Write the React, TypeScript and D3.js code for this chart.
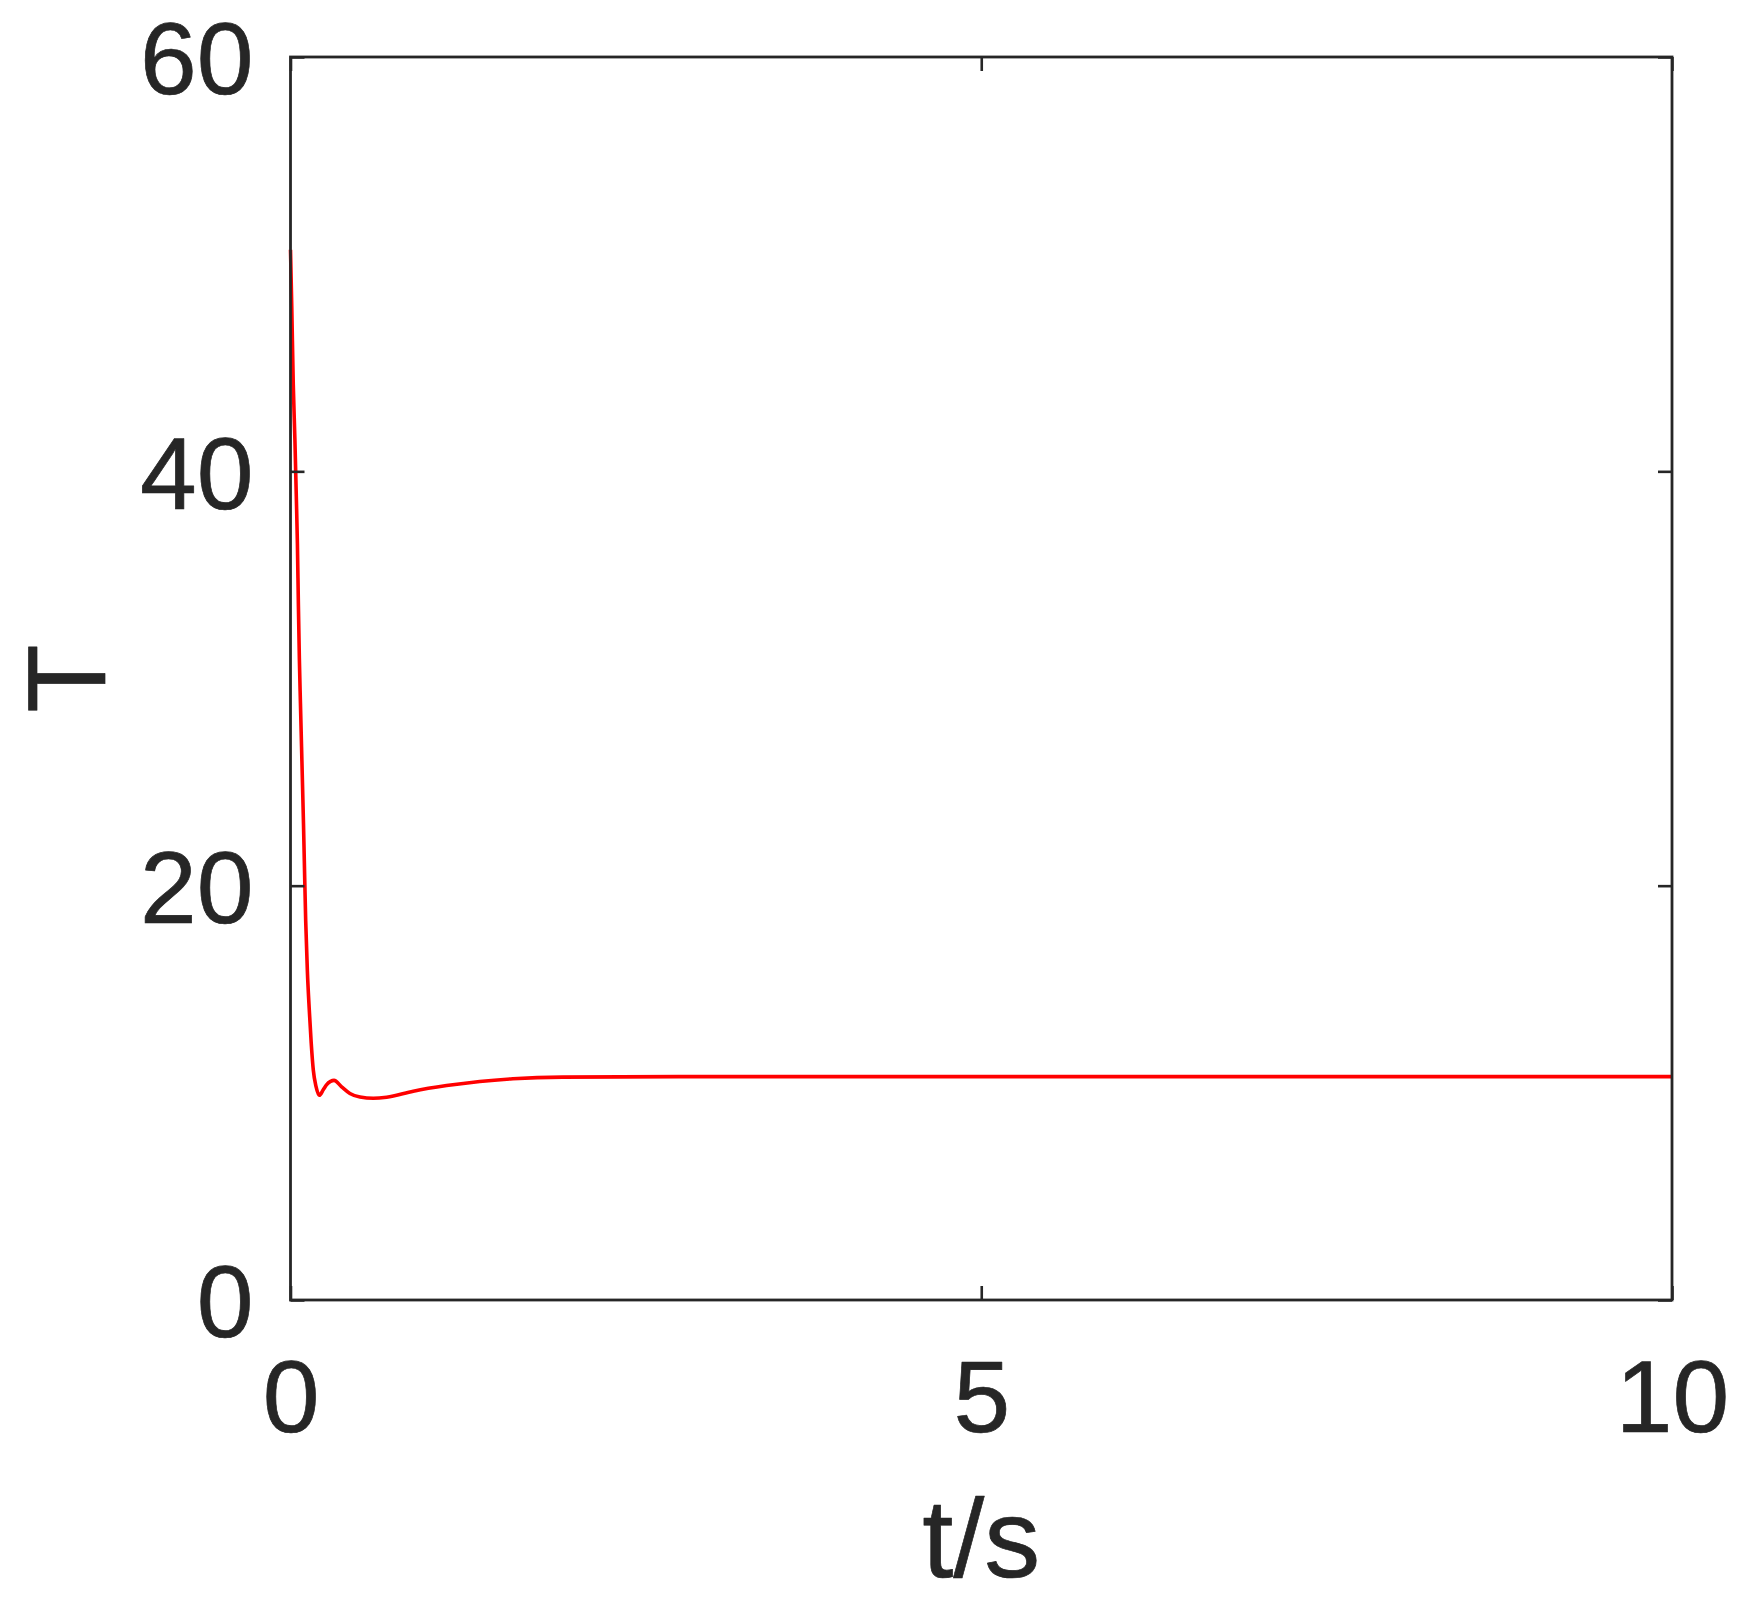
import * as d3 from "d3";
import {useEffect, useRef} from "react";

// time (s) and T
const time = [0, 0.009, 0.02, 0.032, 0.042, 0.05, 0.057, 0.064, 0.072, 0.08, 0.088, 0.094, 0.1, 0.11, 0.122, 0.136, 0.15, 0.165, 0.185, 0.209, 0.238, 0.262, 0.29, 0.315, 0.37, 0.43, 0.503, 0.6, 0.696, 0.889, 1.13, 1.37, 1.61, 1.97, 2.81, 4, 6, 8, 10]
const torque = [50.7, 48.0, 44.2, 41.5, 38.8, 36.5, 33.6, 31.0, 28.8, 26.7, 24.6, 23.0, 21.2, 18.3, 15.9, 14.0, 12.4, 11.1, 10.3, 9.88, 10.16, 10.4, 10.55, 10.6, 10.29, 9.97, 9.8, 9.74, 9.79, 10.08, 10.35, 10.55, 10.68, 10.76, 10.78, 10.78, 10.78, 10.78, 10.78]

const xTicks = [0, 5, 10]
const yTicks = [0, 20, 40, 60]
const xLabel = "t/s"
const yLabel = "T"

const W = 1745
const H = 1607
const margin = {left: 290.5, top: 57, right: W - 1672, bottom: H - 1300}
const ink = "#262626"
const font = "'Liberation Sans', Arial, Helvetica, sans-serif"

const App = () => {
    const ref = useRef(null)

    useEffect(() => {
        const svg = d3.select(ref.current)
        svg.selectAll("*").remove()

        const x = d3.scaleLinear().domain([0, 10]).range([margin.left, W - margin.right])
        const y = d3.scaleLinear().domain([0, 60]).range([H - margin.bottom, margin.top])

        const line = d3.line()
            .x((d) => x(d[0]))
            .y((d) => y(d[1]))
            .curve(d3.curveMonotoneX)

        svg.append("path")
            .datum(time.map((t, i) => [t, torque[i]]))
            .attr("d", line)
            .attr("fill", "none")
            .attr("stroke", "#ff0000")
            .attr("stroke-width", 3.6)

        // slightly heavier glyphs, like the reference's rendering
        const ink_text = (sel) => sel
            .attr("fill", ink)
            .attr("stroke", ink)
            .attr("stroke-width", 0.7)
            .attr("stroke-linejoin", "round")
            .style("font-family", font)

        const style = (g, labels) => {
            g.select(".domain").remove()
            g.selectAll(".tick line").attr("stroke", ink).attr("stroke-width", 2.6)
            if (labels) {
                g.selectAll(".tick text").call(ink_text).style("font-size", "102px")
            } else {
                g.selectAll(".tick text").remove()
            }
        }

        svg.append("g")
            .attr("transform", `translate(0,${y(0)})`)
            .call(d3.axisBottom(x).tickValues(xTicks).tickSize(-14).tickPadding(60).tickFormat(d3.format("d")))
            .call((g) => style(g, true))

        svg.append("g")
            .attr("transform", `translate(0,${y(60)})`)
            .call(d3.axisTop(x).tickValues(xTicks).tickSize(-14))
            .call((g) => style(g, false))

        svg.append("g")
            .attr("transform", `translate(${x(0)},0)`)
            .call(d3.axisLeft(y).tickValues(yTicks).tickSize(-14).tickPadding(37).tickFormat(d3.format("d")))
            .call((g) => style(g, true))
            .call((g) => g.selectAll(".tick text").attr("dy", "0.36em"))

        svg.append("g")
            .attr("transform", `translate(${x(10)},0)`)
            .call(d3.axisRight(y).tickValues(yTicks).tickSize(-14))
            .call((g) => style(g, false))

        svg.append("rect")
            .attr("x", x(0))
            .attr("y", y(60))
            .attr("width", x(10) - x(0))
            .attr("height", y(0) - y(60))
            .attr("fill", "none")
            .attr("stroke", ink)
            .attr("stroke-width", 2.8)

        svg.append("text")
            .attr("x", x(5))
            .attr("y", 1577)
            .attr("text-anchor", "middle")
            .call(ink_text)
            .style("font-size", "112px")
            .text(xLabel)

        svg.append("text")
            .attr("transform", `translate(105,${(y(0) + y(60)) / 2}) rotate(-90)`)
            .attr("text-anchor", "middle")
            .call(ink_text)
            .style("font-size", "112px")
            .text(yLabel)
    }, [])

    return (
        <svg
            ref={ref}
            width={W}
            height={H}
            style={{position: "absolute", left: 0, top: 0, background: "#ffffff"}}>
        </svg>
    )
}

export default App;
